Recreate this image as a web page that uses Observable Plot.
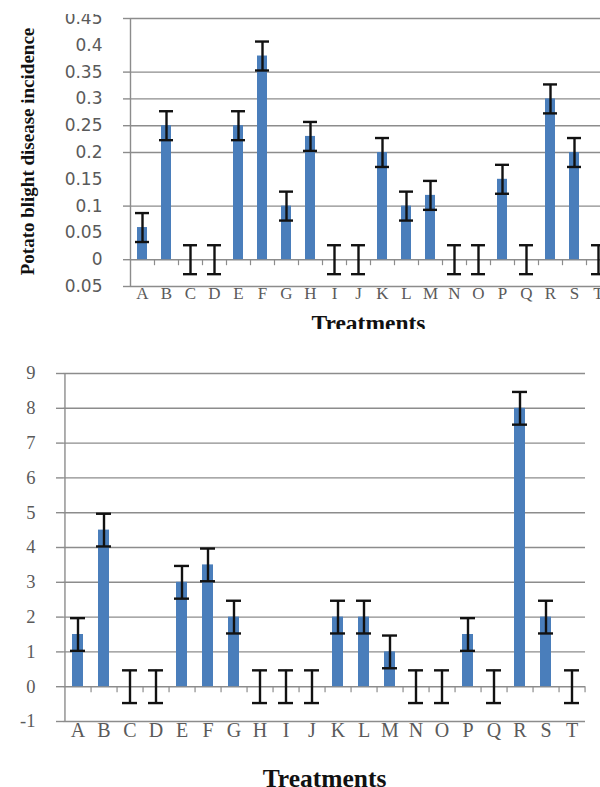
<!DOCTYPE html>
<html>
<head>
<meta charset="utf-8">
<script src="https://cdn.jsdelivr.net/npm/d3@7"></script>
<script src="https://cdn.jsdelivr.net/npm/@observablehq/plot@0.6"></script>
<style>
  html, body { margin: 0; padding: 0; background: #fff; }
  #wrap { width: 600px; height: 787px; overflow: hidden; position: relative; background: #fff; }
  #wrap svg { display: block; max-width: none; }
  #gap { height: 36px; }
</style>
</head>
<body>
<div id="wrap">
  <div id="top"></div>
  <div id="gap"></div>
  <div id="bottom"></div>
</div>
<script>
// ---- data ----
const treatments = ["A","B","C","D","E","F","G","H","I","J","K","L","M","N","O","P","Q","R","S","T"];

const incidence    = [0.06,0.25,0,0,0.25,0.38,0.10,0.23,0,0,0.20,0.10,0.12,0,0,0.15,0,0.30,0.20,0];
const incidenceErr = [0.027,0.027,0.027,0.027,0.027,0.027,0.027,0.027,0.027,0.027,0.027,0.027,0.027,0.027,0.027,0.027,0.027,0.027,0.027,0.027];

const severity    = [1.5,4.5,0,0,3,3.5,2,0,0,0,2,2,1,0,0,1.5,0,8,2,0];
const severityErr = [0.47,0.47,0.47,0.47,0.47,0.47,0.47,0.47,0.47,0.47,0.47,0.47,0.47,0.47,0.47,0.47,0.47,0.47,0.47,0.47];

const topTicks      = [-0.05,0,0.05,0.1,0.15,0.2,0.25,0.3,0.35,0.4,0.45];
const topTickLabels = ["0.05","0","0.05","0.1","0.15","0.2","0.25","0.3","0.35","0.4","0.45"];
const topGrid       = [-0.05,0,0.1,0.2,0.25,0.3,0.35,0.45];

const bottomTicks      = [-1,0,1,2,3,4,5,6,7,8,9];
const bottomTickLabels = ["-1","0","1","2","3","4","5","6","7","8","9"];

const topYTitle = "Potato blight disease incidence";
const xTitle = "Treatments";

// ---- styles ----
const BLUE = "#4a7ebb";
const GRID = "#8c8c8c";
const TXT = "#5a5a5a";
const SERIF = "'Liberation Serif', 'Times New Roman', serif";
const SANS = "'DejaVu Sans', sans-serif";

const topData = treatments.map((t, i) => ({t, v: incidence[i], e: incidenceErr[i]}));
const botData = treatments.map((t, i) => ({t, v: severity[i], e: severityErr[i]}));

function chart({data, width, height, marginLeft, marginRight, marginTop, marginBottom,
                xRange, yDomain, ticks, tickLabels, grid, yFont, yFontSize, xFontSize, xPad,
                capInset, yTitle, titleSize, titleDy, titleDx, tickPadY}) {
  const step = (xRange[1] - xRange[0]) / treatments.length;
  const labelOf = new Map(ticks.map((t, i) => [t, tickLabels[i]]));
  const marks = [
    Plot.gridY(grid, {stroke: GRID, strokeOpacity: 1, strokeWidth: 1.4}),
    Plot.axisY(grid, {tickSize: 7, stroke: GRID, strokeWidth: 1.4, tickFormat: () => "", label: null}),
    Plot.axisY(ticks, {tickSize: 0, tickPadding: tickPadY, tickFormat: d => labelOf.get(d), label: null,
      fontFamily: yFont, fontSize: yFontSize, fill: TXT}),
    // vertical axis line at the left edge of the first band
    Plot.ruleX([treatments[0]], {x: d => d, y1: () => yDomain[0], y2: () => yDomain[1],
      dx: -step / 2, stroke: GRID, strokeWidth: 1.4}),
    // small tick marks below the zero line at band boundaries
    Plot.ruleX(treatments, {x: d => d, y1: () => 0, y2: () => 0, insetBottom: -6,
      dx: step / 2, stroke: GRID, strokeWidth: 1.2}),
    Plot.barY(data, {x: "t", y: "v", fill: BLUE}),
    Plot.ruleX(data, {x: "t", y1: d => d.v - d.e, y2: d => d.v + d.e, stroke: "#111", strokeWidth: 2.4}),
    Plot.tickY(data, {x: "t", y: d => d.v + d.e, stroke: "#111", strokeWidth: 2.4, insetLeft: -capInset, insetRight: -capInset}),
    Plot.tickY(data, {x: "t", y: d => d.v - d.e, stroke: "#111", strokeWidth: 2.4, insetLeft: -capInset, insetRight: -capInset}),
    Plot.axisX(treatments, {tickSize: 0, tickPadding: xPad, fontFamily: SERIF, fontSize: xFontSize, fill: TXT, label: null}),
    Plot.text([xTitle], {frameAnchor: "bottom", lineAnchor: "middle", dy: titleDy, dx: titleDx, text: d => d,
      fontFamily: SERIF, fontWeight: "bold", fontSize: titleSize, fill: "#111"})
  ];
  if (yTitle) {
    marks.push(Plot.text([yTitle.text], {frameAnchor: "left", textAnchor: "middle", lineAnchor: "middle",
      rotate: -90, dx: yTitle.dx, dy: yTitle.dy, text: d => d,
      fontFamily: SERIF, fontWeight: "bold", fontSize: yTitle.size, fill: "#111"}));
  }
  return Plot.plot({
    width, height, marginLeft, marginRight, marginTop, marginBottom,
    style: {background: "white", overflow: "hidden"},
    x: {type: "band", domain: treatments, range: xRange, paddingInner: 0.58, paddingOuter: 0.29, align: 0.5, axis: null},
    y: {domain: yDomain, axis: null},
    marks
  });
}

const topSvg = chart({
  data: topData, width: 600, height: 330,
  marginLeft: 130, marginRight: 0, marginTop: 18, marginBottom: 44,
  xRange: [130, 610], yDomain: [-0.05, 0.45],
  ticks: topTicks, tickLabels: topTickLabels, grid: topGrid,
  yFont: SANS, yFontSize: 17, xFontSize: 17, xPad: 0, capInset: 2, tickPadY: 28,
  titleSize: 23.5, titleDy: 36.6, titleDx: 3,
  yTitle: {text: topYTitle, dx: -103, dy: -1, size: 19}
});
topSvg.style.clipPath = "inset(14px 0 1px 0)";
document.getElementById("top").appendChild(topSvg);

const botSvg = chart({
  data: botData, width: 600, height: 421,
  marginLeft: 63, marginRight: 15, marginTop: 7, marginBottom: 66,
  xRange: [63, 585], yDomain: [-1, 9],
  ticks: bottomTicks, tickLabels: bottomTickLabels, grid: bottomTicks,
  yFont: SERIF, yFontSize: 18.5, xFontSize: 20, xPad: 1, capInset: 2, tickPadY: 28,
  titleSize: 25.5, titleDy: 57, titleDx: 0,
  yTitle: null
});
document.getElementById("bottom").appendChild(botSvg);
</script>
</body>
</html>
